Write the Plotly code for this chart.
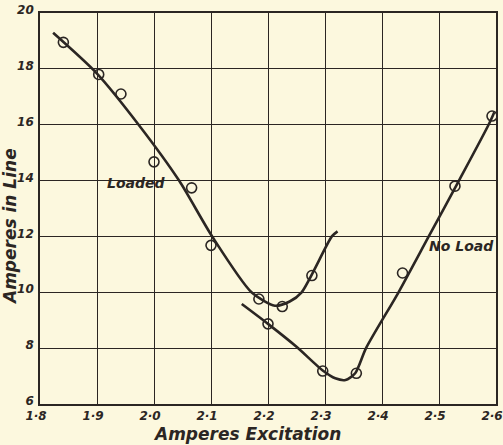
import plotly.graph_objects as go

# Measured readings: line current against field excitation
loaded_exc = [1.841, 1.903, 1.942, 2.000, 2.066, 2.100, 2.184, 2.225, 2.277]
loaded_amps = [18.95, 17.80, 17.10, 14.67, 13.74, 11.68, 9.76, 9.49, 10.60]

noload_exc = [2.200, 2.296, 2.355, 2.436, 2.528, 2.593]
noload_amps = [8.87, 7.18, 7.10, 10.69, 13.80, 16.31]

# Hand-faired curves through the readings
loaded_curve_exc = [1.823, 1.900, 1.973, 2.044, 2.102, 2.171, 2.212, 2.238, 2.259, 2.312, 2.322]
loaded_curve_amps = [19.29, 17.83, 16.00, 14.00, 12.00, 10.00, 9.52, 9.67, 10.00, 12.00, 12.18]

noload_curve_exc = [2.154, 2.200, 2.250, 2.296, 2.318, 2.336, 2.353, 2.372, 2.429, 2.482, 2.535, 2.587, 2.597]
noload_curve_amps = [9.58, 8.87, 8.05, 7.20, 6.92, 6.86, 7.10, 8.00, 10.00, 12.00, 14.00, 16.00, 16.45]

x_ticks = [1.8, 1.9, 2.0, 2.1, 2.2, 2.3, 2.4, 2.5, 2.6]
x_tick_text = ["1·8", "1·9", "2·0", "2·1", "2·2", "2·3", "2·4", "2·5", "2·6"]
y_ticks = [6, 8, 10, 12, 14, 16, 18, 20]

paper = "#fcf8de"
ink = "#2b2623"
font_family = "DejaVu Sans"

fig = go.Figure()

for cx, cy in [(loaded_curve_exc, loaded_curve_amps), (noload_curve_exc, noload_curve_amps)]:
    fig.add_trace(go.Scatter(
        x=cx, y=cy, mode="lines",
        line=dict(color=ink, width=2.6, shape="spline", smoothing=0.7),
        hoverinfo="skip", showlegend=False,
    ))

for px_, py_ in [(loaded_exc, loaded_amps), (noload_exc, noload_amps)]:
    fig.add_trace(go.Scatter(
        x=px_, y=py_, mode="markers",
        marker=dict(symbol="circle-open", size=10, color=ink, line=dict(width=1.6, color=ink)),
        showlegend=False,
    ))

label_font = dict(family=font_family, size=14, color=ink, weight="bold", style="italic")
fig.add_annotation(x=1.97, y=13.9, text="Loaded", showarrow=False, font=label_font)
fig.add_annotation(x=2.54, y=11.65, text="No Load", showarrow=False, font=label_font)

title_font = dict(family=font_family, size=17, color=ink, weight="bold", style="italic")
fig.add_annotation(x=0.455, y=-0.076, xref="paper", yref="paper", text="Amperes Excitation",
                   showarrow=False, font=title_font, xanchor="center", yanchor="middle",
                   borderpad=0)
fig.add_annotation(x=-0.066, y=0.455, xref="paper", yref="paper", text="Amperes in Line",
                   showarrow=False, font=title_font, textangle=-90,
                   xanchor="center", yanchor="middle", borderpad=0)

tick_font = dict(family=font_family, size=12, color=ink, weight="bold", style="italic")

fig.update_xaxes(
    range=[1.8, 2.6], tickvals=x_ticks, ticktext=x_tick_text,
    showgrid=True, gridcolor=ink, gridwidth=1.4,
    showline=True, linecolor=ink, linewidth=1.6, mirror=True,
    zeroline=False, ticks="", tickfont=tick_font, ticklabelstandoff=0,
    ticklabelshift=-4, ticklabeloverflow="allow", automargin=False,
)
fig.update_yaxes(
    range=[6, 20], tickvals=y_ticks,
    showgrid=True, gridcolor=ink, gridwidth=1.4,
    showline=True, linecolor=ink, linewidth=1.6, mirror=True,
    zeroline=False, ticks="", tickfont=tick_font, ticklabelstandoff=2,
    ticklabelshift=-3, automargin=False,
)

fig.update_layout(
    width=503, height=445,
    margin=dict(l=40, r=7, t=13, b=41),
    paper_bgcolor=paper, plot_bgcolor=paper,
    showlegend=False,
)

fig.write_html("out.html")
